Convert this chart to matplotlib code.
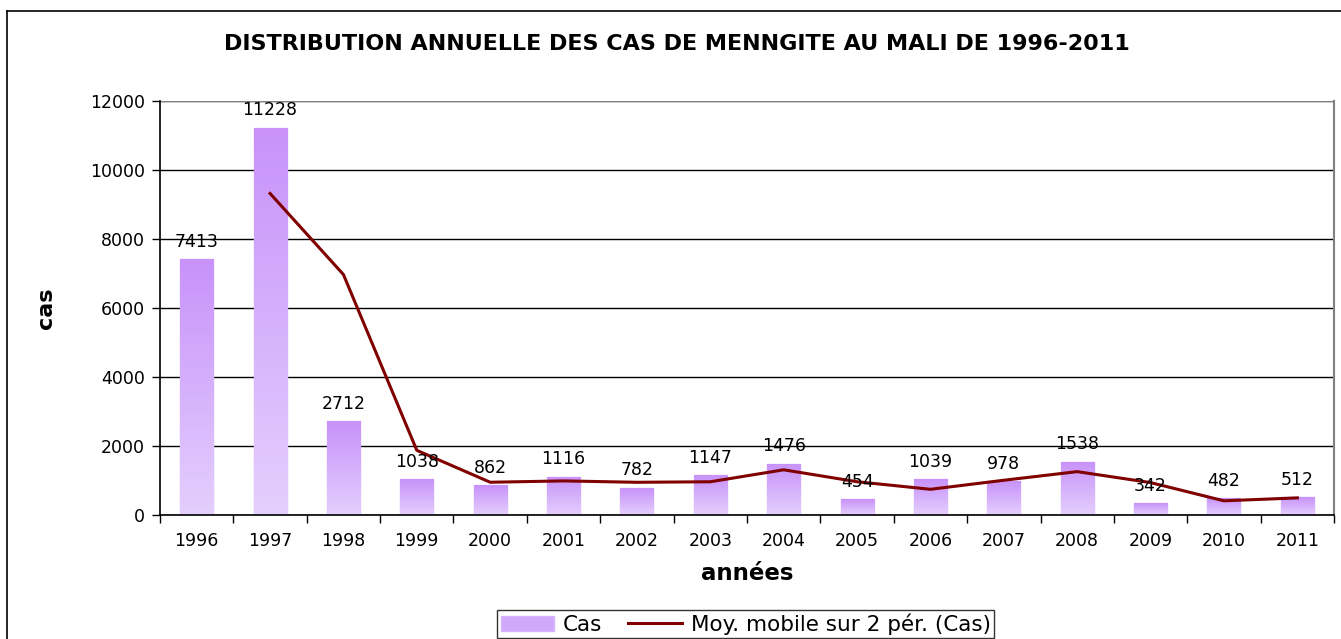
import numpy as np
import matplotlib
matplotlib.use("Agg")
import matplotlib.pyplot as plt
from matplotlib.colors import LinearSegmentedColormap
from matplotlib.patches import Patch
from matplotlib.lines import Line2D

plt.rcParams['font.family'] = ['DejaVu Sans']

# data
years = ['1996', '1997', '1998', '1999', '2000', '2001', '2002', '2003',
         '2004', '2005', '2006', '2007', '2008', '2009', '2010', '2011']
cas = [7413, 11228, 2712, 1038, 862, 1116, 782, 1147,
       1476, 454, 1039, 978, 1538, 342, 482, 512]
# moving average over 2 periods (starts in 1997)
moy = [9320, 6970, 1875, 950, 989, 949, 964, 1311,
       965, 746, 1008, 1258, 940, 412, 497]

fig = plt.figure(figsize=(13.41, 6.39), dpi=100)
ax = fig.add_axes([0.1193, 0.194, 0.8755, 0.648])

x = np.arange(len(years))
bars = ax.bar(x, cas, width=0.45, color='none', edgecolor='#d7b5fc',
              linewidth=1.0, zorder=2)

# vertical gradient inside each bar: dark purple on top, pale at bottom
cmap = LinearSegmentedColormap.from_list('purp', ['#e4cffd', '#c892fa'])
grad = np.linspace(0, 1, 256).reshape(-1, 1)
for b in bars:
    bx, by = b.get_x(), b.get_y()
    im = ax.imshow(grad, cmap=cmap, aspect='auto', origin='lower',
                   extent=[bx, bx + b.get_width(), by, by + b.get_height()],
                   zorder=2)
    im.set_clip_path(b)

xm = np.arange(1, len(years))
ax.plot(xm, moy, color='#800000', linewidth=2.2, zorder=3)

for xi, v in zip(x, cas):
    ax.text(xi, v + 250, str(v), ha='center', va='bottom', fontsize=12.5,
            color='black', zorder=4)

ax.set_xlim(-0.5, len(years) - 0.5)
ax.set_ylim(0, 12000)
ax.set_yticks(np.arange(0, 12001, 2000))
ax.yaxis.grid(True, color='black', linewidth=1.0, zorder=0)
ax.set_axisbelow(True)
ax.set_xticks(x)
ax.set_xticklabels(years)
ax.set_xticks(np.arange(-0.5, len(years), 1), minor=True)
ax.tick_params(axis='x', which='major', length=0, pad=12, labelsize=12.5)
ax.tick_params(axis='x', which='minor', length=6, width=1.0, direction='out')
ax.tick_params(axis='y', length=6, width=1.0, direction='out', labelsize=12.5, pad=5)

ax.spines['top'].set_visible(False)
ax.spines['right'].set_color('#808080')
ax.spines['right'].set_linewidth(1.5)
ax.spines['left'].set_linewidth(1.2)
ax.spines['bottom'].set_linewidth(1.2)
ax.axhline(12000, color='#808080', linewidth=1.5, zorder=1)

ax.set_xlabel('années', fontsize=16.5, fontweight='bold', labelpad=9)
ax.set_ylabel('cas', fontsize=16, fontweight='bold', labelpad=24)

fig.text(0.505, 0.931, 'DISTRIBUTION ANNUELLE DES CAS DE MENNGITE AU MALI DE 1996-2011',
         ha='center', va='center', fontsize=16, fontweight='bold')

handles = [Patch(facecolor='#d2a8fb', edgecolor='#d7b5fc'),
           Line2D([0], [0], color='#800000', linewidth=2.2)]
leg = fig.legend(handles, ['Cas', 'Moy. mobile sur 2 pér. (Cas)'],
                 loc='upper center', bbox_to_anchor=(0.556, 1 - 610 / 639), ncol=2,
                 fontsize=15.5, frameon=True, fancybox=False,
                 edgecolor='black', handlelength=2.5, columnspacing=1.2,
                 handletextpad=0.4, borderpad=0.15, borderaxespad=0)
leg.get_frame().set_linewidth(1.0)

# outer chart border (left and top edges visible in the frame)
fig.add_artist(Line2D([7 / 1341, 7 / 1341], [1 - 11 / 639, 0], color='black',
                      linewidth=1.2, transform=fig.transFigure))
fig.add_artist(Line2D([7 / 1341, 1], [1 - 11 / 639, 1 - 11 / 639], color='black',
                      linewidth=1.2, transform=fig.transFigure))

fig.savefig('out.png', dpi=100)
